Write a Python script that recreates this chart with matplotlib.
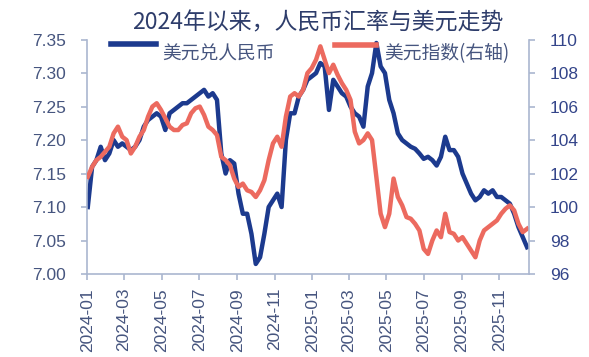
import numpy as np
import pandas as pd
import matplotlib
matplotlib.use('Agg')
import matplotlib.pyplot as plt
import matplotlib.dates as mdates
from matplotlib.lines import Line2D

plt.rcParams['font.family'] = ['Liberation Sans', 'Noto Sans CJK SC', 'DejaVu Sans']

title = '2024年以来，人民币汇率与美元走势'
name_cny = '美元兑人民币'
name_dxy = '美元指数(右轴)'

dates = pd.date_range('2024-01-02', periods=103, freq='7D')

usdcny = [
    7.10, 7.16, 7.17, 7.19, 7.17, 7.18, 7.20, 7.19, 7.195, 7.19,
    7.185, 7.19, 7.20, 7.22, 7.23, 7.235, 7.24, 7.235, 7.215, 7.24,
    7.245, 7.25, 7.255, 7.255, 7.26, 7.265, 7.27, 7.275, 7.265, 7.27,
    7.26, 7.18, 7.15, 7.17, 7.165, 7.12, 7.09, 7.09, 7.06, 7.015,
    7.025, 7.06, 7.10, 7.11, 7.12, 7.10, 7.20, 7.24, 7.24, 7.265,
    7.275, 7.29, 7.295, 7.30, 7.315, 7.31, 7.245, 7.29, 7.28, 7.27,
    7.265, 7.25, 7.24, 7.235, 7.22, 7.28, 7.30, 7.345, 7.31, 7.30,
    7.26, 7.24, 7.21, 7.20, 7.195, 7.19, 7.187, 7.18, 7.172, 7.175,
    7.17, 7.162, 7.175, 7.205, 7.185, 7.185, 7.175, 7.15, 7.135, 7.12,
    7.11, 7.115, 7.125, 7.12, 7.125, 7.115, 7.115, 7.11, 7.105, 7.09,
    7.07, 7.055, 7.04,
]

dxy = [
    101.8, 102.4, 102.8, 103.0, 103.3, 103.6, 104.4, 104.8, 104.2, 104.0,
    103.2, 103.6, 104.2, 104.6, 105.4, 106.0, 106.2, 105.8, 105.3, 104.8,
    104.6, 104.6, 104.9, 105.0, 105.6, 105.9, 106.0, 105.5, 104.8, 104.6,
    104.3, 103.0, 102.8, 102.5, 101.7, 101.2, 101.4, 101.0, 100.9, 100.6,
    101.0, 101.6, 102.8, 103.8, 104.2, 103.6, 105.4, 106.6, 106.8, 106.6,
    107.0, 108.0, 108.3, 108.8, 109.6, 108.8, 108.0, 108.5, 107.9, 107.4,
    107.0, 106.4, 104.5, 103.8, 104.0, 104.4, 104.0, 101.8, 99.6, 98.8,
    99.6, 101.7, 100.6, 100.1, 99.4, 99.3, 99.0, 98.6, 97.5, 97.2,
    98.0, 98.6, 98.2, 99.6, 98.5, 98.4, 98.0, 98.2, 97.8, 97.4,
    97.0, 98.0, 98.6, 98.8, 99.0, 99.2, 99.6, 99.9, 100.1, 99.8,
    99.0, 98.5, 98.7,
]

left_ticks = [7.00, 7.05, 7.10, 7.15, 7.20, 7.25, 7.30, 7.35]
right_ticks = [96, 98, 100, 102, 104, 106, 108, 110]

blue = '#1c3a8e'
red = '#ec6a5f'
spine_c = '#aab6cf'
label_c = '#46557f'

fig = plt.figure(figsize=(5.89, 3.57), dpi=100)
ax = fig.add_axes([0.148, 0.2325, 0.750, 0.6565])
ax2 = ax.twinx()

ax.plot(dates, usdcny, color=blue, lw=3.2, solid_joinstyle='round')
ax2.plot(dates, dxy, color=red, lw=3.2, solid_joinstyle='round')

ax.set_ylim(7.00, 7.35)
ax2.set_ylim(96, 110)
ax.set_yticks(left_ticks)
ax.set_yticklabels([f'{v:.2f}' for v in left_ticks])
ax2.set_yticks(right_ticks)

ax.set_xlim(pd.Timestamp('2024-01-01'), pd.Timestamp('2025-12-19'))
ax.xaxis.set_major_locator(mdates.MonthLocator(bymonth=[1, 3, 5, 7, 9, 11]))
ax.xaxis.set_major_formatter(mdates.DateFormatter('%Y-%m'))
for lab in ax.get_xticklabels():
    lab.set_rotation(90)

for a in (ax, ax2):
    a.spines['top'].set_visible(False)
    for s in ('left', 'right', 'bottom'):
        a.spines[s].set_color(spine_c)
        a.spines[s].set_linewidth(1.2)
    a.tick_params(direction='out', length=4, width=1.2, color=spine_c,
                  labelsize=12.5, labelcolor=label_c)
ax.tick_params(axis='y', pad=11)
ax.tick_params(axis='x', pad=6)
ax2.tick_params(labelcolor='#34458a', pad=11)
ax.spines['right'].set_visible(False)
ax2.spines['left'].set_visible(False)
ax2.spines['bottom'].set_visible(False)

fig.text(0.539, 0.936, title, ha='center', va='center', fontsize=16.5,
         color='#2e3d6b', family=['Noto Sans CJK SC', 'DejaVu Sans'])

# legend drawn by hand: handle sits near the top of the text
fig.add_artist(Line2D([0.188, 0.265], [0.877, 0.877], color=blue, lw=4,
                      transform=fig.transFigure))
fig.text(0.275, 0.849, name_cny, ha='left', va='center', fontsize=13.5,
         color=label_c, family=['Noto Sans CJK SC', 'DejaVu Sans'])
fig.add_artist(Line2D([0.569, 0.638], [0.875, 0.875], color=red, lw=4,
                      transform=fig.transFigure))
fig.text(0.652, 0.849, name_dxy, ha='left', va='center', fontsize=13.5,
         color=label_c, family=['Noto Sans CJK SC', 'DejaVu Sans'])

fig.savefig('out.png', dpi=100)
